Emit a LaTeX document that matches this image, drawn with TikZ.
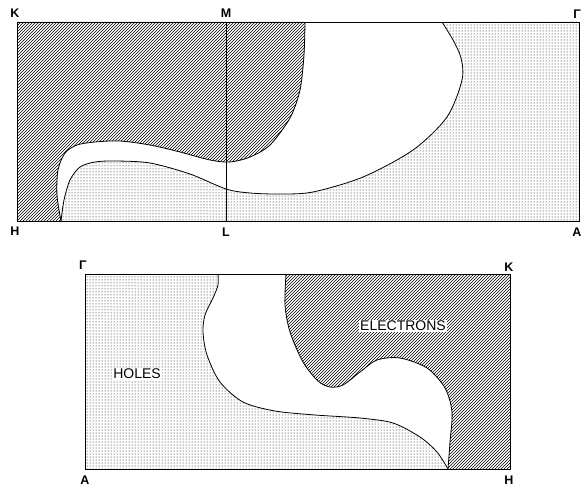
\documentclass[tikz,border=0pt]{standalone}
\usepackage{fontspec}
\setmainfont{Liberation Sans}
\usetikzlibrary{patterns}
\begin{document}
\begin{tikzpicture}[x=1pt,y=-1pt,
  hatchfill/.style={pattern=north east lines},
  dotfill/.style={pattern=dots, pattern color=black},
  edge/.style={line width=0.8pt},
  corner/.style={font=\fontsize{12.5}{14}\selectfont\bfseries, inner sep=0pt},
  tag/.style={font=\fontsize{14}{16}\selectfont, fill=white, inner sep=1pt}]
\useasboundingbox (0,0) rectangle (583,487);

% ---------- top panel ----------
\coordinate (tK) at (17,22);
\coordinate (tG) at (579,22);
\coordinate (tA) at (579,221);
\coordinate (tH) at (17,221);
\coordinate (tM) at (226,22);
\coordinate (tL) at (226,221);
\coordinate (tcusp) at (61,221);

% hatched region (upper left)
\fill[hatchfill] (305,22) -- plot[smooth] coordinates {(305,22) (304,55) (300,90) (290,118) (270,145) (250,157) (230,162) (210,160) (180,152) (150,145) (120,141) (95,142) (77,145) (65,153) (58,170) (57,195) (61,221)} -- (tH) -- (tK) -- cycle;
% dotted region (lower right)
\fill[dotfill] (61,221) -- plot[smooth] coordinates {(61,221) (64,200) (70,180) (80,167) (95,162) (115,161) (150,163) (190,174) (226,189) (250,193) (280,194) (313,192) (363,177) (413,150) (447,117) (462,80) (461,58) (453,40) (442,22)} -- (tG) -- (tA) -- cycle;

\draw[edge] plot[smooth] coordinates {(305,22) (304,55) (300,90) (290,118) (270,145) (250,157) (230,162) (210,160) (180,152) (150,145) (120,141) (95,142) (77,145) (65,153) (58,170) (57,195) (61,221)};
\draw[edge] plot[smooth] coordinates {(61,221) (64,200) (70,180) (80,167) (95,162) (115,161) (150,163) (190,174) (226,189) (250,193) (280,194) (313,192) (363,177) (413,150) (447,117) (462,80) (461,58) (453,40) (442,22)};

\draw[edge] (tK) rectangle (tA);
\draw[edge] (tM) -- (tL);

\node[corner] (lK) at (15,13) {K};
\node[corner] (lM) at (226,13) {M};
\node[corner] (lG) at (577,14) {Γ};
\node[corner] (lH) at (15,231) {H};
\node[corner] (lL) at (226,232) {L};
\node[corner] (lA) at (577,232) {A};

% ---------- bottom panel ----------
\coordinate (bG) at (85,274);
\coordinate (bK) at (510,274);
\coordinate (bH) at (510,469);
\coordinate (bA) at (85,469);

\fill[dotfill] (218,274) -- plot[smooth] coordinates {(218,274) (218,285) (213,298) (205,315) (203,332) (207,355) (220,382) (243,402) (275,411) (315,415) (360,418) (393,423) (420,437) (437,452) (448,469)} -- (bA) -- (bG) -- cycle;
\fill[hatchfill] (286,274) -- plot[smooth] coordinates {(286,274) (285,305) (290,332) (303,362) (318,381) (330,387) (343,385) (360,372) (377,360) (400,358) (427,368) (445,388) (452,412) (450,442) (448,469)} -- (bH) -- (bK) -- cycle;

\draw[edge] plot[smooth] coordinates {(218,274) (218,285) (213,298) (205,315) (203,332) (207,355) (220,382) (243,402) (275,411) (315,415) (360,418) (393,423) (420,437) (437,452) (448,469)};
\draw[edge] plot[smooth] coordinates {(286,274) (285,305) (290,332) (303,362) (318,381) (330,387) (343,385) (360,372) (377,360) (400,358) (427,368) (445,388) (452,412) (450,442) (448,469)};

\draw[edge] (bA) rectangle (bK);

\node[corner] (mG) at (83,265) {Γ};
\node[corner] (mK) at (509,267) {K};
\node[corner] (mA) at (85,480) {A};
\node[corner] (mH) at (509,480) {H};

\node[tag] (holes) at (137,374) {HOLES};
\node[tag] (elec) at (403,326) {ELECTRONS};
\end{tikzpicture}
\end{document}
